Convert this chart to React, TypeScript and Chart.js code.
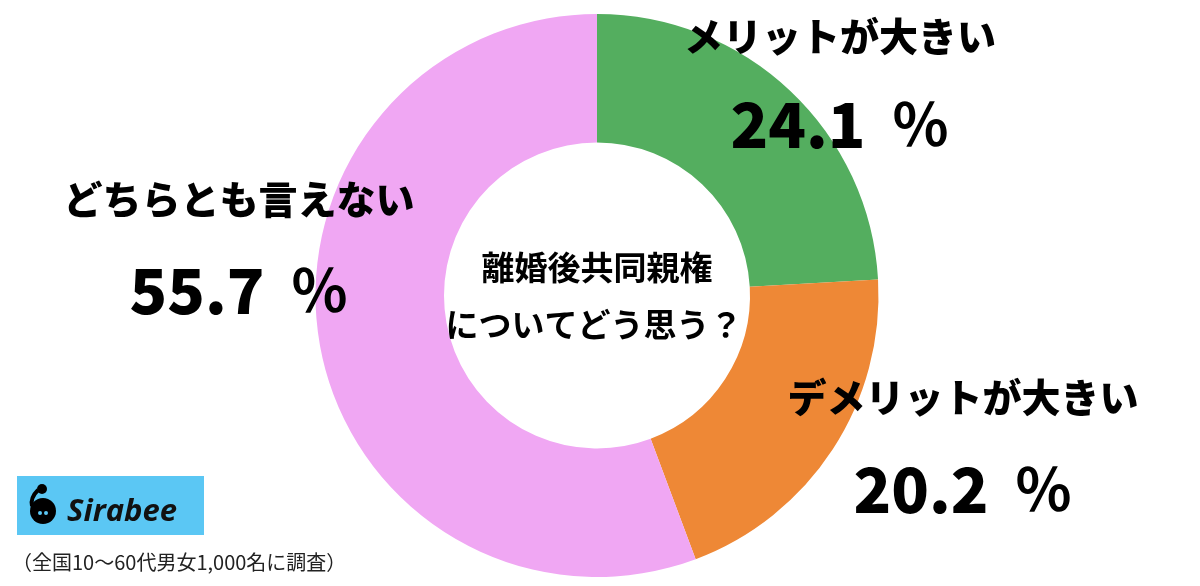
import React, { useEffect, useRef } from "react";
import { Chart, registerables } from "chart.js";

Chart.register(...registerables);

const categories = ["メリットが大きい", "デメリットが大きい", "どちらとも言えない"];
const values = [24.1, 20.2, 55.7];
const valueLabels = ["24.1", "20.2", "55.7"];
const percentSign = "％";
const colors = ["#54AE5F", "#EE8836", "#F0A7F3"];
const centerLines = ["離婚後共同親権", "についてどう思う？"];
const footnote = "（全国10〜60代男女1,000名に調査）";
const brand = "Sirabee";

const labelPos = [
  { x: 840, y1: 36, y2: 124 },
  { x: 963, y1: 397, y2: 489 },
  { x: 239, y1: 199, y2: 290 },
];

const overlayPlugin = {
  id: "overlay",
  afterDraw(chart: any) {
    const ctx = chart.ctx as CanvasRenderingContext2D;
    ctx.save();
    ctx.fillStyle = "#000";
    ctx.textAlign = "center";
    ctx.textBaseline = "middle";
    const jp = '"Noto Sans CJK JP", sans-serif';
    categories.forEach((c, i) => {
      const p = labelPos[i];
      ctx.font = `900 39px ${jp}`;
      ctx.textAlign = "center";
      ctx.fillText(c, p.x, p.y1);
      ctx.font = `900 62px ${jp}`;
      const numW = ctx.measureText(valueLabels[i]).width;
      ctx.font = `bold 58px ${jp}`;
      const pctW = ctx.measureText(percentSign).width;
      const gap = 26;
      const total = numW + gap + pctW;
      const x0 = p.x - total / 2;
      ctx.textAlign = "left";
      ctx.font = `900 62px ${jp}`;
      ctx.fillText(valueLabels[i], x0, p.y2);
      ctx.font = `bold 58px ${jp}`;
      ctx.fillText(percentSign, x0 + numW + gap, p.y2);
    });
    // center text
    ctx.textAlign = "center";
    ctx.font = `bold 33px ${jp}`;
    ctx.fillText(centerLines[0], 597, 267);
    ctx.fillText(centerLines[1], 594, 324);
    // logo
    ctx.fillStyle = "#5BC7F4";
    ctx.fillRect(17, 476, 187, 59);
    ctx.fillStyle = "#000";
    ctx.beginPath();
    ctx.arc(43, 511, 13, 0, Math.PI * 2);
    ctx.fill();
    ctx.beginPath();
    ctx.arc(42, 489, 5, 0, Math.PI * 2);
    ctx.fill();
    ctx.lineWidth = 4;
    ctx.strokeStyle = "#000";
    ctx.beginPath();
    ctx.moveTo(38, 490);
    ctx.quadraticCurveTo(30, 498, 32, 506);
    ctx.stroke();
    ctx.fillStyle = "#5BC7F4";
    ctx.beginPath();
    ctx.arc(40, 513, 2, 0, Math.PI * 2);
    ctx.arc(46, 513, 2, 0, Math.PI * 2);
    ctx.fill();
    ctx.fillStyle = "#111";
    ctx.textAlign = "left";
    ctx.textBaseline = "alphabetic";
    ctx.font = 'italic bold 31px "Open Sans", sans-serif';
    ctx.fillText(brand, 67, 521);
    // footnote
    ctx.fillStyle = "#222";
    ctx.font = `20px ${jp}`;
    ctx.textBaseline = "middle";
    ctx.fillText(footnote, 12, 562);
    ctx.restore();
  },
};

export default function App() {
  const ref = useRef<HTMLCanvasElement>(null);
  useEffect(() => {
    document.body.style.margin = "0";
    const chart = new Chart(ref.current!, {
      type: "doughnut",
      data: {
        labels: categories,
        datasets: [
          {
            data: values,
            backgroundColor: colors,
            borderWidth: 0,
          },
        ],
      },
      options: {
        responsive: false,
        animation: false,
        cutout: 153,
        layout: { padding: { left: 0, right: 6, top: 14, bottom: 9 } },
        plugins: { legend: { display: false }, tooltip: { enabled: false } },
      },
      plugins: [overlayPlugin],
    });
    return () => chart.destroy();
  }, []);
  return (
    <div style={{ width: 1200, height: 586, background: "#fff" }}>
      <canvas ref={ref} width={1200} height={586} />
    </div>
  );
}
